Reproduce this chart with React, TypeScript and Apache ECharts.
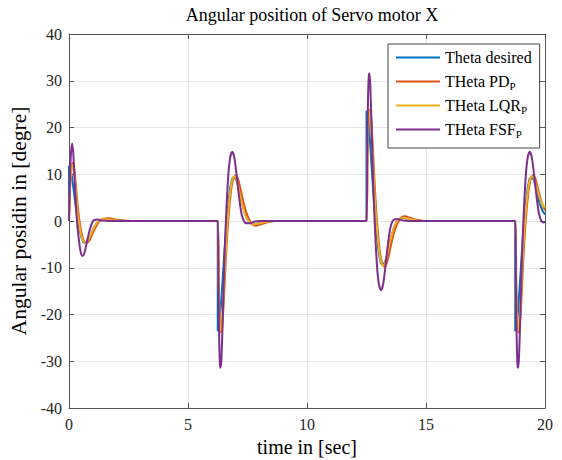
import React, { useEffect, useRef } from "react";
import * as echarts from "echarts";

const FONT = "Liberation Serif";

const seriesNames = ["Theta desired", "THeta PD_P", "THeta LQR_P", "THeta FSF_P"];
const colors = ["#0072BD", "#D95319", "#EDB120", "#7E2F8E"];

const thetaDesired: [number, number][] = [
  [0, 0], [0, 11.8], [0.05, 11.3], [0.12, 9.5], [0.2, 6.5], [0.28, 3.2], [0.36, 0.5], [0.44, -1.8], [0.52, -3.5], [0.6, -4.5], [0.68, -4.7], [0.78, -4.4], [0.9, -3.2], [1.02, -1.8], [1.14, -0.7], [1.27, 0], [1.45, 0.3], [1.7, 0.3], [2.0, 0.1], [2.3, 0],
  [6.25, 0], [6.25, -23.6], [6.3, -22.5], [6.37, -19], [6.45, -13], [6.53, -6.5], [6.61, -1], [6.69, 3.5], [6.77, 7], [6.85, 9], [6.93, 9.5], [7.03, 8.8], [7.15, 6.5], [7.27, 3.8], [7.39, 1.6], [7.52, 0.1], [7.65, -0.5], [7.8, -0.7], [8.05, -0.4], [8.35, -0.1], [8.65, 0],
  [12.5, 0], [12.5, 23.6], [12.55, 22.5], [12.62, 19], [12.7, 13], [12.78, 6.5], [12.86, 1], [12.94, -3.5], [13.02, -7], [13.1, -9], [13.18, -9.5], [13.28, -8.8], [13.4, -6.5], [13.52, -3.8], [13.64, -1.6], [13.77, -0.1], [13.9, 0.5], [14.05, 0.7], [14.3, 0.4], [14.6, 0.1], [14.9, 0],
  [18.75, 0], [18.75, -23.6], [18.8, -22.5], [18.87, -19], [18.95, -13], [19.03, -6.5], [19.11, -1], [19.19, 3.5], [19.27, 7], [19.35, 9], [19.43, 9.5], [19.53, 8.8], [19.65, 6.5], [19.77, 3.8], [19.89, 2.2], [20, 1.4],
];

const thetaPD: [number, number][] = [
  [0, 0], [0.04, 6.5], [0.09, 10.5], [0.15, 12.4], [0.21, 11.5], [0.28, 8], [0.36, 3.5], [0.44, 0], [0.52, -2.5], [0.62, -4.2], [0.74, -4.7], [0.85, -4.2], [0.98, -2.8], [1.12, -1.3], [1.28, 0], [1.45, 0.5], [1.7, 0.6], [1.95, 0.35], [2.3, 0.1], [2.6, 0],
  [6.25, 0], [6.29, -13], [6.33, -20.5], [6.38, -23.8], [6.43, -23], [6.5, -17.5], [6.58, -9], [6.66, -2], [6.73, 2.5], [6.81, 6.5], [6.9, 9], [7.0, 9.8], [7.1, 9], [7.2, 7], [7.33, 4], [7.45, 1.8], [7.58, 0.2], [7.72, -0.8], [7.87, -1.0], [8.07, -0.7], [8.3, -0.3], [8.65, 0],
  [12.5, 0], [12.54, 13], [12.58, 20.5], [12.63, 23.8], [12.68, 23], [12.75, 17.5], [12.83, 9], [12.91, 2], [12.98, -2.5], [13.06, -6.5], [13.15, -9], [13.25, -9.8], [13.35, -9], [13.45, -7], [13.58, -4], [13.7, -1.8], [13.83, -0.2], [13.97, 0.8], [14.12, 1.0], [14.32, 0.7], [14.55, 0.3], [14.9, 0],
  [18.75, 0], [18.79, -13], [18.83, -20.5], [18.88, -23.8], [18.93, -23], [19.0, -17.5], [19.08, -9], [19.16, -2], [19.23, 2.5], [19.31, 6.5], [19.4, 9], [19.5, 9.8], [19.6, 9], [19.7, 7], [19.83, 4.5], [19.95, 2.8], [20, 2.3],
];

const thetaLQR: [number, number][] = [
  [0, 0], [0.04, 6.8], [0.09, 11], [0.14, 12], [0.2, 11], [0.27, 7.5], [0.34, 3], [0.42, -0.5], [0.5, -2.8], [0.6, -4.3], [0.7, -4.6], [0.8, -4.1], [0.92, -2.8], [1.05, -1.4], [1.2, -0.2], [1.38, 0.4], [1.6, 0.4], [1.85, 0.2], [2.2, 0],
  [6.25, 0], [6.29, -13.5], [6.33, -21], [6.37, -23.5], [6.42, -22.5], [6.49, -16.5], [6.56, -8.5], [6.64, -1.5], [6.71, 3], [6.79, 6.8], [6.87, 9], [6.95, 9.5], [7.05, 8.7], [7.15, 6.5], [7.27, 3.8], [7.39, 1.6], [7.52, 0.1], [7.65, -0.5], [7.8, -0.7], [8.0, -0.5], [8.25, -0.2], [8.55, 0],
  [12.5, 0], [12.54, 13.5], [12.58, 21], [12.62, 23.5], [12.67, 22.5], [12.74, 16.5], [12.81, 8.5], [12.89, 1.5], [12.96, -3], [13.04, -6.8], [13.12, -9], [13.2, -9.5], [13.3, -8.7], [13.4, -6.5], [13.52, -3.8], [13.64, -1.6], [13.77, -0.1], [13.9, 0.5], [14.05, 0.7], [14.25, 0.5], [14.5, 0.2], [14.8, 0],
  [18.75, 0], [18.79, -13.5], [18.83, -21], [18.87, -23.5], [18.92, -22.5], [18.99, -16.5], [19.06, -8.5], [19.14, -1.5], [19.21, 3], [19.29, 6.8], [19.37, 9], [19.45, 9.5], [19.55, 8.9], [19.65, 7.2], [19.77, 5], [19.89, 3.6], [20, 2.8],
];

const thetaFSF: [number, number][] = [
  [0, 0], [0.03, 7], [0.07, 13.5], [0.13, 16.6], [0.18, 14.5], [0.24, 8.5], [0.3, 2.5], [0.36, -1.5], [0.44, -5], [0.5, -6.8], [0.57, -7.5], [0.65, -6.8], [0.75, -4.5], [0.85, -2.3], [0.95, -0.6], [1.05, 0.2], [1.2, 0.3], [1.4, 0.1], [1.7, 0],
  [6.25, 0], [6.28, -14], [6.31, -25], [6.34, -30.5], [6.37, -31.4], [6.41, -29], [6.47, -19], [6.53, -8], [6.61, 2], [6.69, 9.5], [6.77, 13.5], [6.86, 14.8], [6.95, 13.5], [7.05, 9.5], [7.15, 5], [7.25, 1.5], [7.35, 0], [7.45, -0.5], [7.6, -0.5], [7.8, -0.1], [8.05, 0],
  [12.5, 0], [12.53, 14], [12.56, 25], [12.59, 30.5], [12.62, 31.6], [12.66, 29], [12.72, 19], [12.78, 8], [12.86, -2], [12.94, -9.5], [13.02, -13.5], [13.11, -14.8], [13.2, -13.5], [13.3, -9.5], [13.4, -5], [13.5, -1.5], [13.6, 0], [13.7, 0.4], [13.85, 0.4], [14.05, 0.1], [14.3, 0],
  [18.75, 0], [18.78, -14], [18.81, -25], [18.84, -30.5], [18.87, -31.4], [18.91, -29], [18.97, -19], [19.03, -8], [19.11, 2], [19.19, 9.5], [19.27, 13.5], [19.36, 14.8], [19.45, 13.5], [19.55, 9.5], [19.65, 5], [19.75, 1.5], [19.85, 0], [19.95, -0.3], [20, -0.2],
];

const seriesData = [thetaDesired, thetaPD, thetaLQR, thetaFSF];

const xMin = 0, xMax = 20, xStep = 5;
const yMin = -40, yMax = 40, yStep = 10;

export default function App() {
  const ref = useRef<HTMLDivElement>(null);
  useEffect(() => {
    if (!ref.current) return;
    const chart = echarts.init(ref.current, undefined, { renderer: "svg" });
    const axisLine = { show: true, onZero: false, lineStyle: { color: "#555", width: 1 } };
    const tick = { show: true, inside: true, length: 5, lineStyle: { color: "#555" } };
    const label = { fontFamily: FONT, fontSize: 16, color: "#262626" };
    chart.setOption({
      animation: false,
      backgroundColor: "#fff",
      title: {
        text: "Angular position of Servo motor X",
        left: 307,
        top: 1,
        textAlign: "center",
        textStyle: { fontFamily: FONT, fontSize: 18, fontWeight: "normal", color: "#000" },
      },
      grid: {
        left: 69, top: 34, width: 476, height: 374,
        containLabel: false, outerBoundsMode: "none",
      },
      legend: {
        orient: "vertical",
        left: 388,
        top: 44,
        padding: [4, 8, 9, 8],
        itemGap: 5,
        itemWidth: 44,
        itemHeight: 2,
        icon: "rect",
        borderColor: "#444",
        borderWidth: 1,
        backgroundColor: "#fff",
        data: seriesNames,
        formatter: (name: string) => {
          if (name.endsWith("_P")) return "{a|" + name.slice(0, -2) + "}{s|P}";
          return "{a|" + name + "}";
        },
        textStyle: {
          fontFamily: FONT,
          fontSize: 16,
          lineHeight: 19,
          color: "#000",
          rich: {
            a: { fontFamily: FONT, fontSize: 16, color: "#000", lineHeight: 19 },
            s: { fontFamily: FONT, fontSize: 11, color: "#000", lineHeight: 19, verticalAlign: "bottom" },
          },
        },
      },
      xAxis: [
        {
          type: "value", min: xMin, max: xMax, interval: xStep,
          name: "time in [sec]", nameLocation: "middle", nameGap: 29,
          nameTextStyle: { fontFamily: FONT, fontSize: 20, color: "#000" },
          axisLine, axisTick: tick, axisLabel: { ...label, margin: 8 },
          splitLine: { show: true, lineStyle: { color: "#e6e6e6", width: 1 } },
        },
        {
          type: "value", min: xMin, max: xMax, interval: xStep, position: "top",
          axisLine, axisTick: tick, axisLabel: { show: false }, splitLine: { show: false },
        },
      ],
      yAxis: [
        {
          type: "value", min: yMin, max: yMax, interval: yStep,
          name: "Angular posidin in [degre]", nameLocation: "middle", nameGap: 38,
          nameTextStyle: { fontFamily: FONT, fontSize: 21.5, color: "#000" },
          axisLine, axisTick: tick, axisLabel: { ...label, margin: 7 },
          splitLine: { show: true, lineStyle: { color: "#e6e6e6", width: 1 } },
        },
        {
          type: "value", min: yMin, max: yMax, interval: yStep, position: "right",
          axisLine, axisTick: tick, axisLabel: { show: false }, splitLine: { show: false },
        },
      ],
      series: seriesNames.map((n, i) => ({
        name: n,
        type: "line",
        xAxisIndex: 0,
        yAxisIndex: 0,
        data: seriesData[i],
        showSymbol: false,
        symbol: "none",
        smooth: i === 0 ? false : 0.25,
        lineStyle: { color: colors[i], width: 2 },
        itemStyle: { color: colors[i] },
        emphasis: { disabled: true },
      })),
    });
    return () => chart.dispose();
  }, []);
  return (
    <div
      ref={ref}
      style={{ position: "fixed", left: 0, top: 0, width: 562, height: 460 }}
    />
  );
}
